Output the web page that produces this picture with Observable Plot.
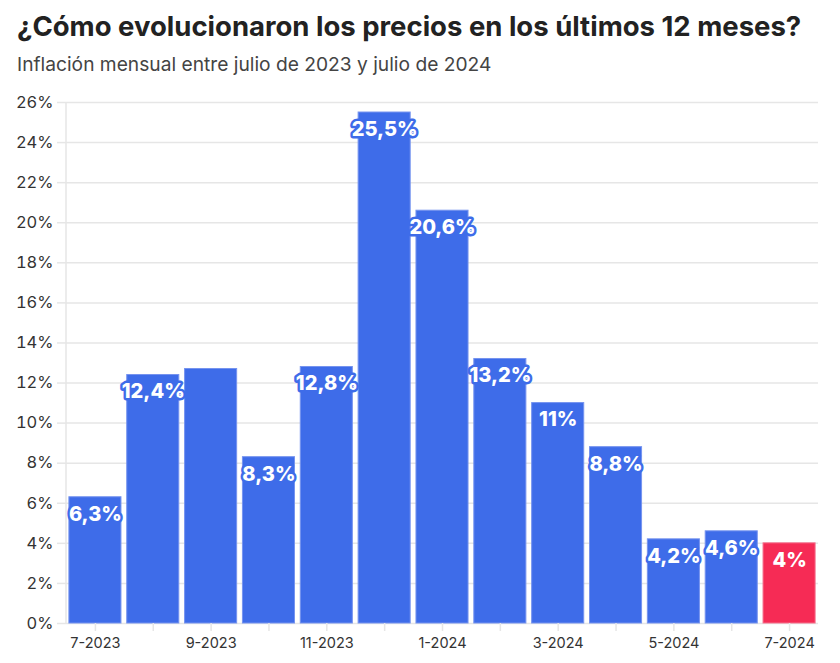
<!DOCTYPE html>
<html>
<head>
<meta charset="utf-8">
<script src="https://cdn.jsdelivr.net/npm/d3@7"></script>
<script src="https://cdn.jsdelivr.net/npm/@observablehq/plot@0.6"></script>
<style>
  html, body { margin: 0; padding: 0; background: #fff; }
  body { width: 840px; height: 663px; overflow: hidden; font-family: Inter, "Noto Sans", sans-serif; }
  #title { position: absolute; left: 17px; top: 9px; font-size: 27.5px; font-weight: 700; color: #222; white-space: nowrap; }
  #subtitle { position: absolute; left: 17px; top: 52px; font-size: 19.2px; color: #444; white-space: nowrap; }
  #chart { position: absolute; left: 0; top: 85px; }
</style>
</head>
<body>
<div id="title">¿Cómo evolucionaron los precios en los últimos 12 meses?</div>
<div id="subtitle">Inflación mensual entre julio de 2023 y julio de 2024</div>
<div id="chart"></div>
<script>
const months = ["7-2023","8-2023","9-2023","10-2023","11-2023","12-2023","1-2024","2-2024","3-2024","4-2024","5-2024","6-2024","7-2024"];
const values = [6.3, 12.4, 12.7, 8.3, 12.8, 25.5, 20.6, 13.2, 11, 8.8, 4.2, 4.6, 4];
const labels = ["6,3%","12,4%","","8,3%","12,8%","25,5%","20,6%","13,2%","11%","8,8%","4,2%","4,6%","4%"];
const highlight = "7-2024";
const yTicks = [0,2,4,6,8,10,12,14,16,18,20,22,24,26];

const BLUE = "#3e6ce9";
const RED = "#f62b55";

const data = months.map((m, i) => ({month: m, value: values[i], label: labels[i], color: m === highlight ? RED : BLUE}));

const chart = Plot.plot({
  width: 840,
  height: 578,
  marginTop: 17,
  marginBottom: 40,
  marginLeft: 66,
  marginRight: 22,
  style: {fontFamily: "Inter, 'Noto Sans', sans-serif", fontSize: "15px", color: "#333", background: "#fff"},
  x: {domain: months, paddingInner: 0.1, paddingOuter: 0.05, round: false, label: null},
  y: {domain: [0, 26], label: null},
  marks: [
    Plot.gridY(yTicks, {stroke: "#e6e6e6", strokeOpacity: 1, strokeWidth: 1.5}),
    Plot.axisY({ticks: yTicks, tickFormat: d => d + "%", tickSize: 9, stroke: "#e6e6e6", strokeWidth: 1.5, tickPadding: 4, fontSize: 16.5, fill: "#333", label: null}),
    Plot.barY(data, {x: "month", y: "value", fill: "color", stroke: d => d.color === RED ? "#f5708c" : "#7593ef", strokeWidth: 1}),
    Plot.axisX({tickSize: 8, stroke: "#e6e6e6", strokeWidth: 1.5, tickPadding: 6, fontSize: 14.5, fill: "#333", tickFormat: (d) => months.indexOf(d) % 2 === 0 ? d : "", label: null}),
    Plot.text(data.filter(d => d.label !== ""), {x: "month", y: "value", text: "label", dy: 17, fill: "white", stroke: "color", strokeWidth: 5, strokeLinejoin: "round", fontWeight: 800, fontSize: 20, lineAnchor: "middle"})
  ]
});
document.getElementById("chart").appendChild(chart);
const svg = d3.select(chart);
const yTop = 17, yBot = 578 - 40;
svg.insert("line", ":first-child").attr("x1", 66).attr("x2", 66).attr("y1", yTop).attr("y2", yBot).attr("stroke", "#e6e6e6").attr("stroke-width", 1.5);
</script>
</body>
</html>
